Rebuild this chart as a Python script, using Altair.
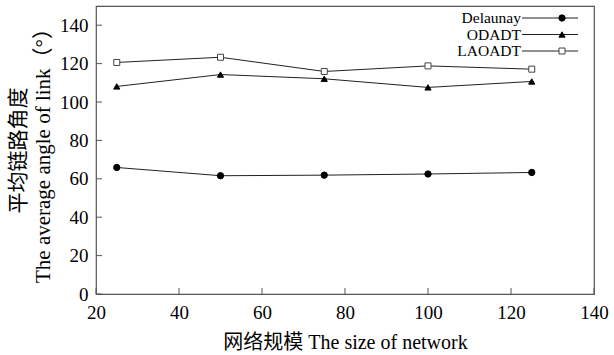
import altair as alt
import pandas as pd

sizes = [25, 50, 75, 100, 125]
series_names = ["Delaunay", "ODADT", "LAOADT"]
delaunay = [65.9, 61.6, 61.9, 62.5, 63.3]
odadt = [108.1, 114.3, 112.1, 107.6, 110.7]
laoadt = [120.6, 123.3, 115.9, 118.8, 117.1]
x_ticks = [20, 40, 60, 80, 100, 120, 140]
y_ticks = [0, 20, 40, 60, 80, 100, 120, 140]

rows = []
for name, vals in zip(series_names, [delaunay, odadt, laoadt]):
    for s, v in zip(sizes, vals):
        rows.append({"series": name, "size": s, "angle": v})
df = pd.DataFrame(rows)
leg = pd.DataFrame({"series": series_names})
xt = pd.DataFrame({"t": x_ticks})
yt = pd.DataFrame({"t": y_ticks})

FONT = "'Liberation Serif', 'Noto Sans CJK SC', serif"
xscale = alt.Scale(domain=[20, 140], nice=False, zero=False)
yscale = alt.Scale(domain=[0, 150], nice=False)
shape_scale = alt.Scale(domain=series_names, range=["circle", "triangle-up", "square"])
fill_scale = alt.Scale(domain=series_names, range=["#000000", "#000000", "#ffffff"])
stroke_scale = alt.Scale(domain=series_names, range=["#000000", "#000000", "#444444"])
size_scale = alt.Scale(domain=series_names, range=[40, 36, 42])

lines = alt.Chart(df).mark_line(color="#222222", strokeWidth=1).encode(
    x=alt.X("size:Q", scale=xscale,
            axis=alt.Axis(values=x_ticks, tickSize=0, labelPadding=9, grid=False,
                          domain=False, labelFontSize=19, labelFont=FONT,
                          labelFlush=False,
                          labelColor="#000", title="网络规模 The size of network",
                          titleFont=FONT, titleFontSize=20, titleFontWeight="normal",
                          titleColor="#000", titlePadding=10)),
    y=alt.Y("angle:Q", scale=yscale,
            axis=alt.Axis(values=y_ticks, tickSize=0, labelPadding=8, grid=False,
                          domain=False, labelFontSize=19, labelFont=FONT,
                          labelFlush=False,
                          labelColor="#000",
                          title=["平均链路角度", "The average angle of link（°）"],
                          titleFont=FONT, titleFontSize=21, titleFontWeight="normal",
                          titleColor="#000", titlePadding=6, titleLineHeight=25)),
    detail="series:N",
)

points = alt.Chart(df).mark_point(filled=False, strokeWidth=1, opacity=1).encode(
    x=alt.X("size:Q", scale=xscale),
    y=alt.Y("angle:Q", scale=yscale, axis=None),
    shape=alt.Shape("series:N", scale=shape_scale, legend=None),
    fill=alt.Fill("series:N", scale=fill_scale, legend=None),
    stroke=alt.Stroke("series:N", scale=stroke_scale, legend=None),
    size=alt.Size("series:N", scale=size_scale, legend=None),
)

ytick = alt.Chart(yt).mark_rule(color="#555555", strokeWidth=1).encode(
    y=alt.Y("t:Q", scale=yscale, axis=None),
    x=alt.value(0), x2=alt.value(6),
)
xtick = alt.Chart(xt).mark_rule(color="#555555", strokeWidth=1).encode(
    x=alt.X("t:Q", scale=xscale),
    y=alt.value(282), y2=alt.value(288),
)

leg_y = alt.Y("series:N",
              scale=alt.Scale(type="point", domain=series_names, range=[12, 45], padding=0),
              axis=None)
leg_text = alt.Chart(leg).mark_text(align="right", baseline="middle", font=FONT,
                                    fontSize=15.5, color="#000").encode(
    y=leg_y, x=alt.value(425), text="series:N")
leg_line = alt.Chart(leg).mark_rule(color="#222222", strokeWidth=1).encode(
    y=leg_y, x=alt.value(426), x2=alt.value(482))
leg_pt = alt.Chart(leg).mark_point(filled=False, strokeWidth=1, opacity=1).encode(
    y=leg_y, x=alt.value(466),
    shape=alt.Shape("series:N", scale=shape_scale, legend=None),
    fill=alt.Fill("series:N", scale=fill_scale, legend=None),
    stroke=alt.Stroke("series:N", scale=stroke_scale, legend=None),
    size=alt.Size("series:N", scale=size_scale, legend=None),
)

chart = alt.layer(lines, points, ytick, xtick, leg_line, leg_pt, leg_text).resolve_scale(
    y="independent"
).properties(
    width=498, height=288,
    autosize=alt.AutoSizeParams(type="none"),
    padding={"left": 96, "top": 6, "right": 20, "bottom": 61},
    background="white",
).configure_view(stroke="#555555", strokeWidth=1.2)

chart.save("out.html", embed_options={"renderer": "svg", "actions": False})
